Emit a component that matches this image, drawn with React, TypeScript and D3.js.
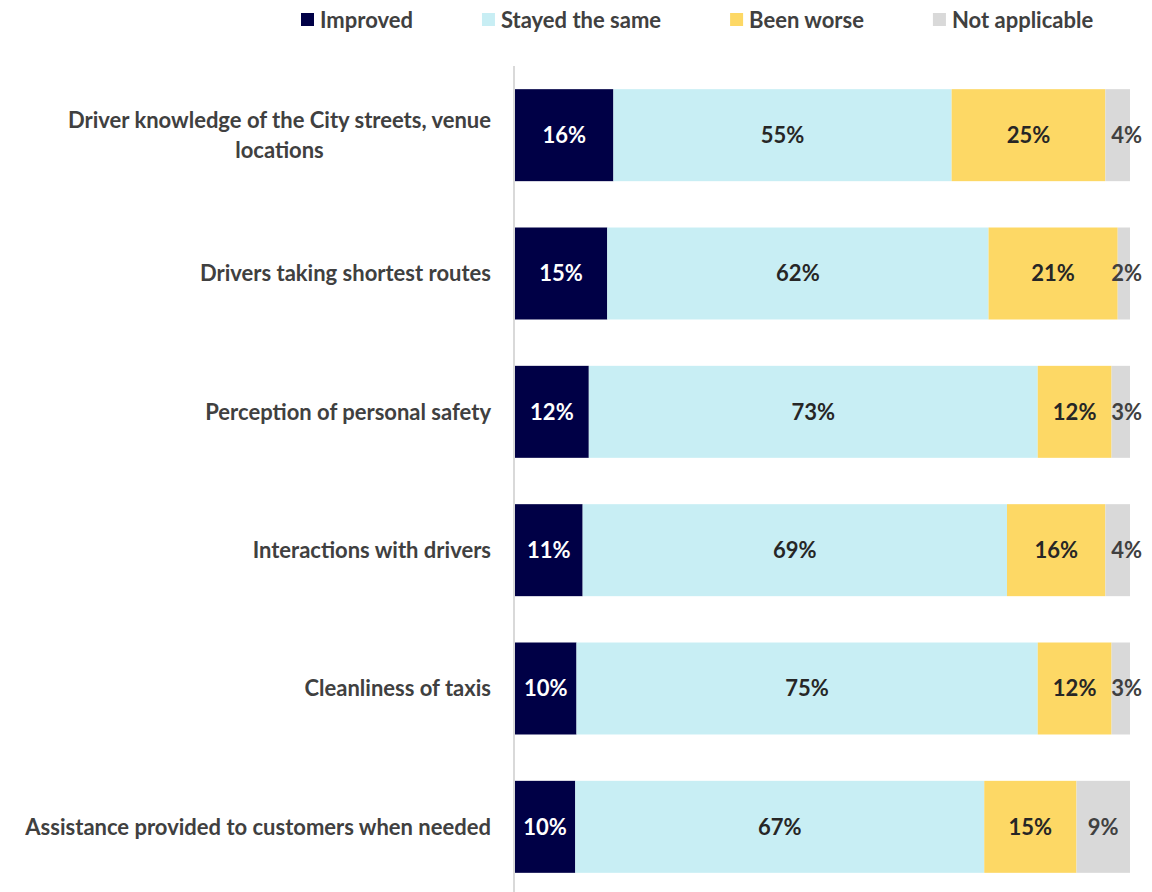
import { useRef, useEffect } from "react";
import * as d3 from "d3";

const categories = [
  "Driver knowledge of the City streets, venue locations",
  "Drivers taking shortest routes",
  "Perception of personal safety",
  "Interactions with drivers",
  "Cleanliness of taxis",
  "Assistance provided to customers when needed",
];

const seriesNames = ["Improved", "Stayed the same", "Been worse", "Not applicable"];
const seriesColors = ["#000046", "#C8EEF4", "#FDD865", "#D9D9D9"];
const labelColors = ["#FFFFFF", "#262626", "#262626", "#404040"];

const improved = [16, 15, 12, 11, 10, 9.8];
const stayedSame = [55, 62, 73, 69, 75, 66.5];
const beenWorse = [25, 21, 12, 16, 12, 15.0];
const notApplicable = [4, 2, 3, 4, 3, 8.7];

const FONT = "Lato, 'Open Sans', sans-serif";
const FS = 22;

export default function App() {
  const svgRef = useRef<SVGSVGElement>(null);

  useEffect(() => {
    document.body.style.margin = "0";
    if (!svgRef.current) return;
    const width = 1152;
    const height = 892;
    const svg = d3.select(svgRef.current);
    svg.selectAll("*").remove();
    svg.attr("width", width).attr("height", height).style("display", "block");

    const rows = categories.map((c, i) => ({
      name: c,
      values: [improved[i], stayedSame[i], beenWorse[i], notApplicable[i]],
    }));

    const x = d3.scaleLinear().domain([0, 100]).range([515, 1130]);
    const y = d3
      .scaleBand<string>()
      .domain(categories)
      .range([66, 896])
      .paddingInner(0.335)
      .paddingOuter(0.1675);

    const labelRight = 1142;

    // bars + value labels
    rows.forEach((row) => {
      const g = svg.append("g");
      let acc = 0;
      row.values.forEach((v, k) => {
        const x0 = x(acc);
        const x1 = x(acc + v);
        acc += v;
        g.append("rect")
          .attr("x", x0)
          .attr("y", y(row.name)!)
          .attr("width", x1 - x0)
          .attr("height", y.bandwidth())
          .attr("fill", seriesColors[k]);
        const t = g
          .append("text")
          .attr("y", y(row.name)! + y.bandwidth() / 2)
          .attr("dy", "0.35em")
          .attr("text-anchor", "middle")
          .attr("font-family", FONT)
          .attr("font-weight", "bold")
          .attr("font-size", FS)
          .attr("fill", labelColors[k])
          .text(`${Math.round(v)}%`);
        const w = (t.node() as SVGTextElement).getComputedTextLength();
        let cx = (x0 + x1) / 2;
        // small last segment: label pushed against right edge of plot
        if (w > x1 - x0 && k === row.values.length - 1) cx = labelRight - w / 2;
        t.attr("x", cx);
      });
    });

    // axis line
    svg
      .append("line")
      .attr("x1", 514)
      .attr("x2", 514)
      .attr("y1", 66)
      .attr("y2", height)
      .attr("stroke", "#D9D9D9")
      .attr("stroke-width", 2);

    // category labels (wrapped, block right-aligned, lines centered)
    const maxW = 480;
    const lineH = 30;
    rows.forEach((row) => {
      const g = svg
        .append("g")
        .attr("font-family", FONT)
        .attr("font-weight", "bold")
        .attr("font-size", FS)
        .attr("fill", "#404040");
      const probe = g.append("text");
      const words = row.name.split(" ");
      const lines: string[] = [];
      let cur = "";
      words.forEach((wd) => {
        const test = cur ? cur + " " + wd : wd;
        probe.text(test);
        if ((probe.node() as SVGTextElement).getComputedTextLength() > maxW && cur) {
          lines.push(cur);
          cur = wd;
        } else cur = test;
      });
      lines.push(cur);
      const widths = lines.map((l) => {
        probe.text(l);
        return (probe.node() as SVGTextElement).getComputedTextLength();
      });
      probe.remove();
      const blockW = d3.max(widths)!;
      const cxLab = 491 - blockW / 2;
      const cy = y(row.name)! + y.bandwidth() / 2;
      lines.forEach((l, i) => {
        g.append("text")
          .attr("x", cxLab)
          .attr("y", cy + (i - (lines.length - 1) / 2) * lineH)
          .attr("dy", "0.35em")
          .attr("text-anchor", "middle")
          .text(l);
      });
    });

    // legend
    const legend = svg
      .append("g")
      .attr("font-family", FONT)
      .attr("font-weight", "bold")
      .attr("font-size", FS)
      .attr("fill", "#404040");
    let lx = 301;
    seriesNames.forEach((s, k) => {
      legend
        .append("rect")
        .attr("x", lx)
        .attr("y", 13)
        .attr("width", 13)
        .attr("height", 13)
        .attr("fill", seriesColors[k]);
      const t = legend
        .append("text")
        .attr("x", lx + 19)
        .attr("y", 20)
        .attr("dy", "0.35em")
        .text(s);
      const w = (t.node() as SVGTextElement).getComputedTextLength();
      lx += 19 + w + 69;
    });
  }, []);

  return <svg ref={svgRef} />;
}
